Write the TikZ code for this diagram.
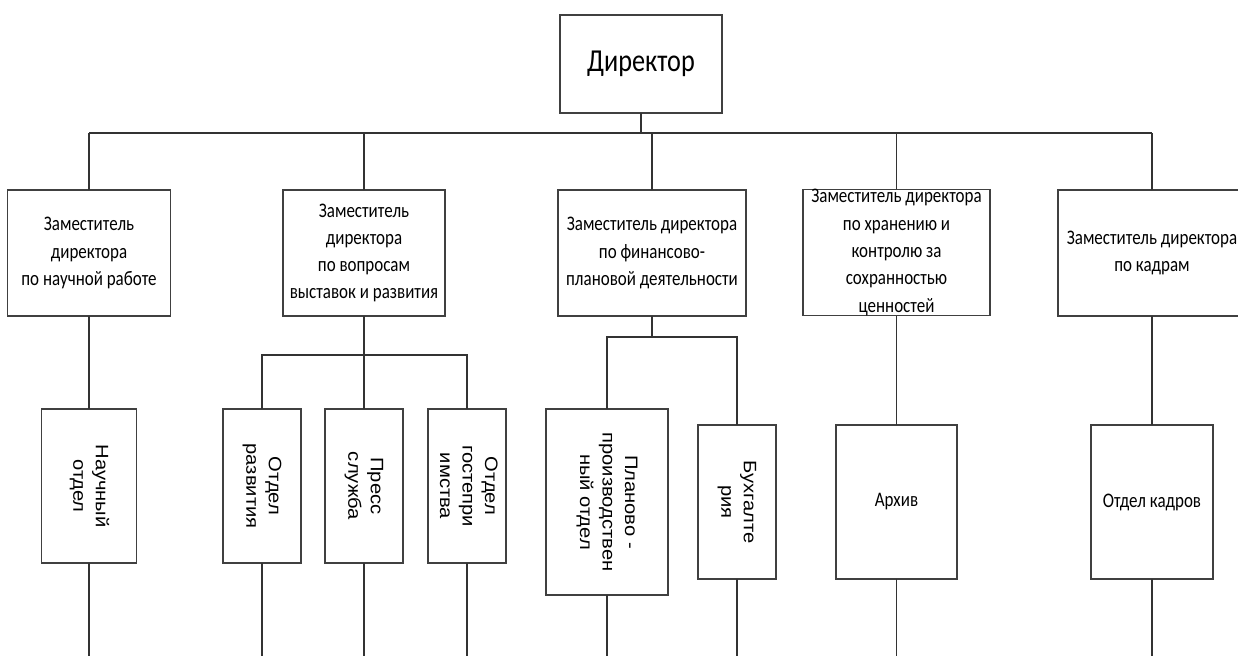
\documentclass[tikz,border=0pt]{standalone}
\usepackage{fontspec}
\usepackage{graphicx}
\setmainfont{Carlito}[FakeStretch=0.82]
\newfontfamily\vertfont[FakeStretch=1.12]{Liberation Sans}

% vertical label: lines set in a column, turned to read top to bottom
\newcommand\vlabel[1]{\rotatebox{-90}{\vertfont\fontsize{18}{22.5}\selectfont
  \begin{tabular}{@{}c@{}}#1\end{tabular}}}

\begin{document}
\begin{tikzpicture}[x=1pt, y=-1pt,
  box/.style={draw=black!75, line width=1.3pt, fill=white, inner sep=0pt, outer sep=0pt},
  deputy/.style={box, minimum height=126pt, align=center, font=\fontsize{20.7}{27.3}\selectfont},
  unit/.style={box, minimum height=154pt, font=\fontsize{20.7}{25}\selectfont},
  link/.style={draw=black!80, line width=1.1pt}]

\useasboundingbox (0,0) rectangle (1238,656);
\clip (0,0) rectangle (1238,656);

% director
\node[box, minimum width=162pt, minimum height=98pt, font=\fontsize{32}{36}\selectfont]
  (dir) at (641,64) {Директор};

% deputies
\node[deputy, minimum width=163pt] (d1) at (89,253)
  {Заместитель\\директора\\по научной работе};
\node[deputy, minimum width=162pt] (d2) at (364,253)
  {Заместитель\\директора\\по вопросам\\выставок и развития};
\node[deputy, minimum width=188pt] (d3) at (652,253)
  {Заместитель директора\\по финансово-\\плановой деятельности};
\node[deputy, minimum width=187pt] (d4) at (896.5,252.5)
  {Заместитель директора\\по хранению и\\контролю за\\сохранностью\\ценностей};
\node[deputy, minimum width=188pt] (d5) at (1152,253)
  {Заместитель директора\\по кадрам};

% departments
\node[unit, minimum width=95pt] (s1) at (89,486) {\vlabel{Научный\\отдел}};
\node[unit, minimum width=78pt] (s2) at (262,486) {\vlabel{Отдел\\развития}};
\node[unit, minimum width=78pt] (s3) at (364,486) {\vlabel{Пресс\\служба}};
\node[unit, minimum width=78pt] (s4) at (467,486) {\vlabel{Отдел\\гостепри\\имства}};
\node[unit, minimum width=122pt, minimum height=186pt] (s5) at (607,502)
  {\vlabel{Планово -\\производствен\\ный отдел}};
\node[unit, minimum width=78pt] (s6) at (737,502) {\vlabel{Бухгалте\\рия}};
\node[unit, minimum width=121pt] (s7) at (896.5,502) {Архив};
\node[unit, minimum width=122pt] (s8) at (1152,502) {Отдел кадров};

% junction points
\coordinate (busL) at (89,133);
\coordinate (busR) at (1152,133);
\coordinate (j2) at (364,355);
\coordinate (j3) at (652,337);
\coordinate (bot) at (0,656);

% top bus
\draw[link] (dir.south) -- (dir.south |- busL);
\draw[link] (busL) -- (busR);
\foreach \d in {d1,d2,d3,d4,d5}
  \draw[link] (\d.north) -- (\d.north |- busL);

% deputies to departments
\draw[link] (d1.south) -- (s1.north);
\draw[link] (d2.south) -- (s3.north);
\draw[link] (s2.north) |- (j2) -| (s4.north);
\draw[link] (d3.south) -- (j3);
\draw[link] (s5.north) |- (j3) -| (s6.north);
\draw[link] (d4.south) -- (s7.north);
\draw[link] (d5.south) -- (s8.north);

% lines running on below the departments
\foreach \s in {s1,s2,s3,s4,s5,s6,s7,s8}
  \draw[link] (\s.south) -- (\s.south |- bot);

\end{tikzpicture}
\end{document}
